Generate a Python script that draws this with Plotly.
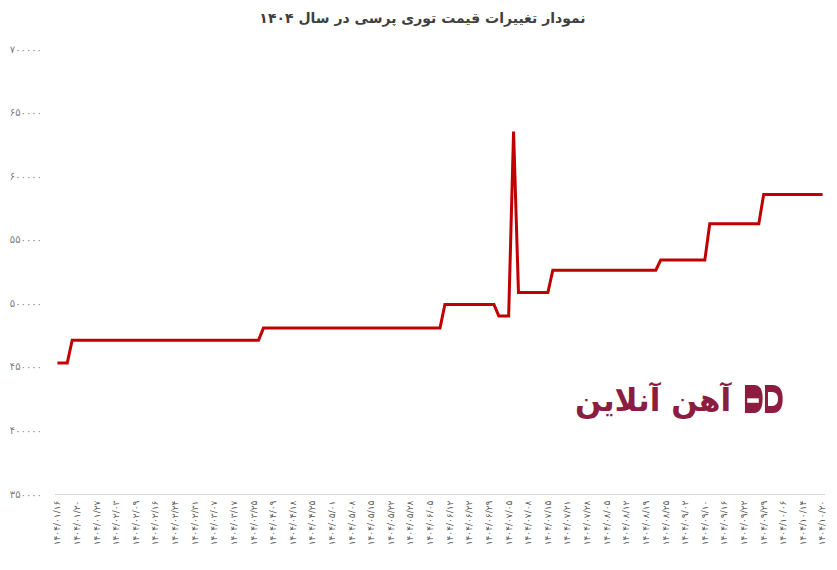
import plotly.graph_objects as go

# Price levels (Rial/kg), as consecutive runs of equal value
segment_values = [453000, 471000, 480500, 499000, 490000, 635000, 508500, 526000, 534000, 562500, 585500]
segment_lengths = [3, 39, 37, 11, 3, 1, 7, 22, 10, 11, 13]

prices = []
for v, n in zip(segment_values, segment_lengths):
    prices += [v] * n
x_idx = list(range(len(prices)))

# Date labels shown on the category axis (every 4th observation)
date_labels = [
    "۱۴۰۴/۰۱/۱۶", "۱۴۰۴/۰۱/۲۰", "۱۴۰۴/۰۱/۲۷", "۱۴۰۴/۰۲/۰۳", "۱۴۰۴/۰۲/۰۹",
    "۱۴۰۴/۰۲/۱۶", "۱۴۰۴/۰۲/۲۴", "۱۴۰۴/۰۲/۳۱", "۱۴۰۴/۰۳/۰۷", "۱۴۰۴/۰۳/۱۷",
    "۱۴۰۴/۰۳/۲۵", "۱۴۰۴/۰۴/۰۹", "۱۴۰۴/۰۴/۱۸", "۱۴۰۴/۰۴/۲۵", "۱۴۰۴/۰۵/۰۱",
    "۱۴۰۴/۰۵/۰۸", "۱۴۰۴/۰۵/۱۵", "۱۴۰۴/۰۵/۲۲", "۱۴۰۴/۰۵/۲۸", "۱۴۰۴/۰۶/۰۵",
    "۱۴۰۴/۰۶/۱۲", "۱۴۰۴/۰۶/۲۲", "۱۴۰۴/۰۶/۲۹", "۱۴۰۴/۰۷/۰۵", "۱۴۰۴/۰۷/۰۸",
    "۱۴۰۴/۰۷/۱۵", "۱۴۰۴/۰۷/۲۱", "۱۴۰۴/۰۷/۲۸", "۱۴۰۴/۰۸/۰۵", "۱۴۰۴/۰۸/۱۲",
    "۱۴۰۴/۰۸/۱۹", "۱۴۰۴/۰۸/۲۵", "۱۴۰۴/۰۹/۰۲", "۱۴۰۴/۰۹/۱۰", "۱۴۰۴/۰۹/۱۶",
    "۱۴۰۴/۰۹/۲۲", "۱۴۰۴/۰۹/۲۹", "۱۴۰۴/۱۰/۰۶", "۱۴۰۴/۱۰/۱۴", "۱۴۰۴/۱۰/۲۰",
]
label_step = 4
label_positions = [i * label_step for i in range(len(date_labels))]

y_tick_values = [350000, 400000, 450000, 500000, 550000, 600000, 650000, 700000]
y_tick_labels = ["۳۵۰۰۰۰", "۴۰۰۰۰۰", "۴۵۰۰۰۰", "۵۰۰۰۰۰", "۵۵۰۰۰۰", "۶۰۰۰۰۰", "۶۵۰۰۰۰", "۷۰۰۰۰۰"]

title_text = "نمودار تغییرات قیمت توری پرسی در سال ۱۴۰۴"
brand_text = "آهن آنلاین"

fig = go.Figure()
fig.add_trace(go.Scatter(
    x=x_idx, y=prices, mode="lines",
    line=dict(color="#c00000", width=3),
    hoverinfo="y", showlegend=False,
))

# page body has an 8px default margin, so the figure is sized to fit the window
fig.update_layout(
    width=829, height=562,
    margin=dict(l=47, r=12, t=41, b=76, autoexpand=False),
    paper_bgcolor="white", plot_bgcolor="white",
    font=dict(family="DejaVu Sans", color="#595959"),
    title=dict(text="<b>" + title_text + "</b>", x=0.5, xanchor="center",
               y=0.982, yanchor="middle",
               font=dict(family="DejaVu Sans", size=14, color="#404040")),
    xaxis=dict(
        range=[-0.5, len(prices) - 0.5],
        tickmode="array", tickvals=label_positions, ticktext=date_labels,
        tickangle=-90, tickfont=dict(size=9, color="#595959"),
        showgrid=False, zeroline=False,
        showline=True, linecolor="#d9d9d9", linewidth=1,
        ticks="", automargin=False, ticklabelstandoff=2,
    ),
    yaxis=dict(
        range=[350000, 700000],
        tickmode="array", tickvals=y_tick_values, ticktext=y_tick_labels,
        tickfont=dict(size=10, color="#808080"),
        showgrid=False, zeroline=False, showline=False, ticks="",
        ticklabelstandoff=12, automargin=False,
    ),
)

# Brand watermark
fig.add_annotation(
    xref="paper", yref="paper", x=0.883, y=0.211, xanchor="right", yanchor="middle",
    text="<b>" + brand_text + "</b>", showarrow=False,
    font=dict(family="DejaVu Sans", size=31, color="#8c1c40"),
)
# stylised logo mark
fig.add_shape(type="path", xref="paper", yref="paper",
              path="M 0.896 0.182 L 0.896 0.245 L 0.908 0.245 Q 0.919 0.245 0.919 0.215 Q 0.919 0.182 0.908 0.182 Z",
              fillcolor="#8c1c40", line=dict(width=0))
fig.add_shape(type="path", xref="paper", yref="paper",
              path="M 0.899 0.205 L 0.899 0.215 L 0.914 0.215 L 0.914 0.205 Z",
              fillcolor="white", line=dict(width=0))
fig.add_shape(type="path", xref="paper", yref="paper",
              path="M 0.922 0.182 L 0.922 0.245 L 0.932 0.245 Q 0.945 0.245 0.945 0.2135 Q 0.945 0.182 0.932 0.182 Z",
              fillcolor="#8c1c40", line=dict(width=0))
fig.add_shape(type="path", xref="paper", yref="paper",
              path="M 0.926 0.198 L 0.926 0.229 L 0.931 0.229 Q 0.939 0.229 0.939 0.2135 Q 0.939 0.198 0.931 0.198 Z",
              fillcolor="white", line=dict(width=0))

fig.write_html("out.html")
